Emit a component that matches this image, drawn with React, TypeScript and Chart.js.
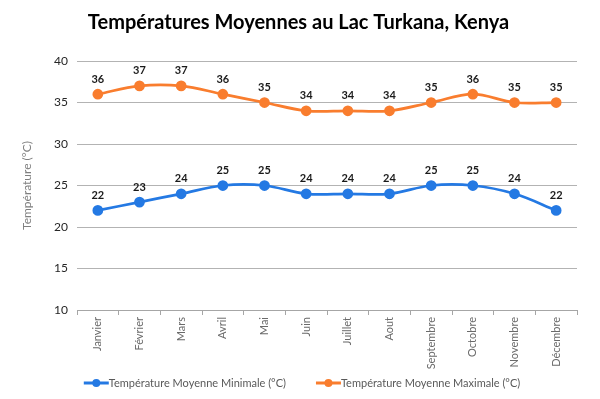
import React, { useEffect, useRef } from "react";
import { Chart, registerables } from "chart.js";

Chart.register(...registerables);

const months = ["Janvier", "Février", "Mars", "Avril", "Mai", "Juin", "Juillet", "Aout", "Septembre", "Octobre", "Novembre", "Décembre"];
const minTemps = [22, 23, 24, 25, 25, 24, 24, 24, 25, 25, 24, 22];
const maxTemps = [36, 37, 37, 36, 35, 34, 34, 34, 35, 36, 35, 35];
const seriesLabels = ["Température Moyenne Minimale (°C)", "Température Moyenne Maximale (°C)"];
const chartTitle = "Températures Moyennes au Lac Turkana, Kenya";
const yTitle = "Température (°C)";

const BLUE = "#2479e3";
const ORANGE = "#f97d2e";
const FONT = "Lato, 'Open Sans', sans-serif";

const dataLabelPlugin = {
  id: "dataLabels",
  afterDatasetsDraw(chart: any) {
    const ctx = chart.ctx;
    ctx.save();
    ctx.font = `bold 11px ${FONT}`;
    ctx.fillStyle = "#1a1a1a";
    ctx.textAlign = "center";
    ctx.textBaseline = "middle";
    chart.data.datasets.forEach((ds: any, i: number) => {
      const meta = chart.getDatasetMeta(i);
      meta.data.forEach((pt: any, j: number) => {
        ctx.fillText(String(ds.data[j]), pt.x, pt.y - 15);
      });
    });
    ctx.restore();
  },
};

const legendPlugin = {
  id: "customLegend",
  afterDraw(chart: any) {
    const ctx = chart.ctx;
    ctx.save();
    ctx.font = `11px ${FONT}`;
    const markerW = 25;
    const gap = 30;
    const items = chart.data.datasets.map((ds: any) => ({
      label: ds.label,
      color: ds.borderColor,
      w: markerW + ctx.measureText(ds.label).width,
    }));
    const total = items.reduce((s: number, it: any) => s + it.w, 0) + gap * (items.length - 1);
    let x = 302 - total / 2;
    const y = 383;
    items.forEach((it: any) => {
      ctx.strokeStyle = it.color;
      ctx.lineWidth = 3;
      ctx.beginPath();
      ctx.moveTo(x, y);
      ctx.lineTo(x + markerW, y);
      ctx.stroke();
      ctx.fillStyle = it.color;
      ctx.beginPath();
      ctx.arc(x + markerW / 2, y, 4, 0, Math.PI * 2);
      ctx.fill();
      ctx.fillStyle = "#595959";
      ctx.textAlign = "left";
      ctx.textBaseline = "middle";
      ctx.fillText(it.label, x + markerW, y);
      x += it.w + gap;
    });
    ctx.restore();
  },
};

export default function App() {
  const ref = useRef<HTMLCanvasElement | null>(null);
  useEffect(() => {
    document.body.style.margin = "0";
    const canvas = ref.current;
    if (!canvas) return;
    const chart = new Chart(canvas, {
      type: "line",
      data: {
        labels: months,
        datasets: [
          {
            label: seriesLabels[0],
            data: minTemps,
            borderColor: BLUE,
            backgroundColor: BLUE,
            pointBackgroundColor: BLUE,
            pointBorderColor: BLUE,
            borderWidth: 2.75,
            pointRadius: 4,
            tension: 0.35,
          },
          {
            label: seriesLabels[1],
            data: maxTemps,
            borderColor: ORANGE,
            backgroundColor: ORANGE,
            pointBackgroundColor: ORANGE,
            pointBorderColor: ORANGE,
            borderWidth: 2.75,
            pointRadius: 4,
            tension: 0.35,
          },
        ],
      },
      options: {
        animation: false,
        responsive: false,
        layout: { padding: { top: 0, right: 23, left: 20, bottom: 0 } },
        plugins: {
          legend: { display: false },
          tooltip: { enabled: false },
          title: {
            display: true,
            text: chartTitle,
            color: "#000000",
            font: { family: FONT, size: 20, weight: "bold" },
            padding: { top: 11, bottom: 26 },
          },
        },
        scales: {
          x: {
            offset: true,
            grid: { offset: true, drawOnChartArea: false, drawTicks: true, tickLength: 5, color: "#a6a6a6" },
            border: { display: true, color: "#a6a6a6" },
            ticks: {
              maxRotation: 90,
              minRotation: 90,
              color: "#6a6a6a",
              font: { family: FONT, size: 11 },
              padding: 2,
              autoSkip: false,
            },
            afterFit(scale: any) {
              scale.height = 89;
            },
          },
          y: {
            min: 10,
            max: 40,
            ticks: { stepSize: 5, color: "#262626", font: { family: FONT, size: 12 }, padding: 9 },
            grid: { color: "#b3b3b3", drawTicks: false },
            border: { display: false },
            title: {
              display: true,
              text: yTitle,
              color: "#7f7f7f",
              font: { family: FONT, size: 12 },
              padding: { top: 0, bottom: 0 },
            },
            afterFit(scale: any) {
              scale.width = 57;
            },
          },
        },
      },
      plugins: [dataLabelPlugin, legendPlugin],
    } as any);
    return () => chart.destroy();
  }, []);
  return <canvas ref={ref} width={600} height={399} style={{ display: "block" }} />;
}
